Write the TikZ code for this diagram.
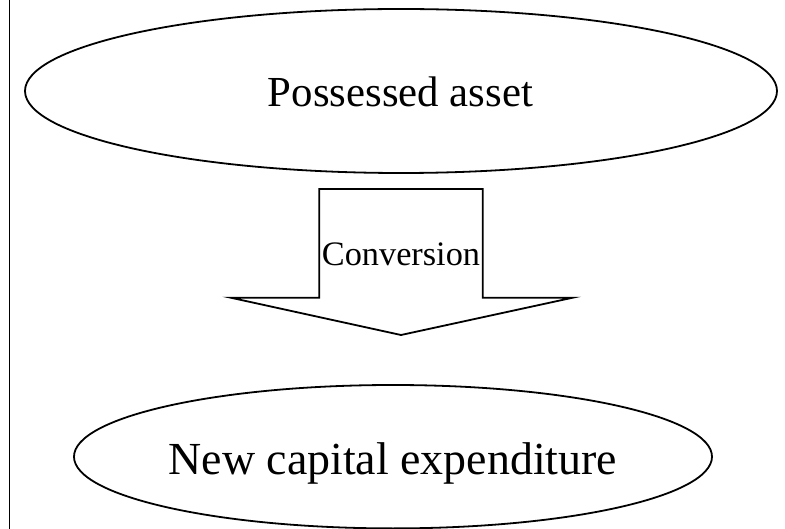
\documentclass[tikz,border=0pt]{standalone}
\usepackage{fontspec}
\setmainfont{Liberation Serif}
\usetikzlibrary{shapes.geometric}
\begin{document}
\begin{tikzpicture}[x=1pt,y=-1pt,
  oval/.style={draw=black,line width=1.8pt,ellipse,inner sep=0pt},
  bigtext/.style={anchor=base,inner sep=0pt},
  blockarrow/.style={draw=black,line width=1.8pt,line join=miter}]
\useasboundingbox (0,0) rectangle (785,529);
\draw[line width=1.8pt] (9.5,0) -- (9.5,529);
% top ellipse
\node[oval,minimum width=752pt,minimum height=164pt] (asset) at (401,91) {};
\node[bigtext,font=\fontsize{42.8}{48}\selectfont] (assettxt) at (400.5,107) {Possessed asset};
% block arrow
\draw[blockarrow] (319.3,189) -- (482.7,189) -- (482.7,297.7) -- (572.7,297.7)
  -- (401,335) -- (230.7,297.7) -- (319.3,297.7) -- cycle;
\node[bigtext,font=\fontsize{34.3}{40}\selectfont] (conv) at (401,265.7) {Conversion};
% bottom ellipse
\node[oval,minimum width=638pt,minimum height=143.4pt] (capex) at (393,456.7) {};
\node[bigtext,font=\fontsize{45.9}{52}\selectfont] (capextxt) at (392.8,475) {New capital expenditure};
\end{tikzpicture}
\end{document}
